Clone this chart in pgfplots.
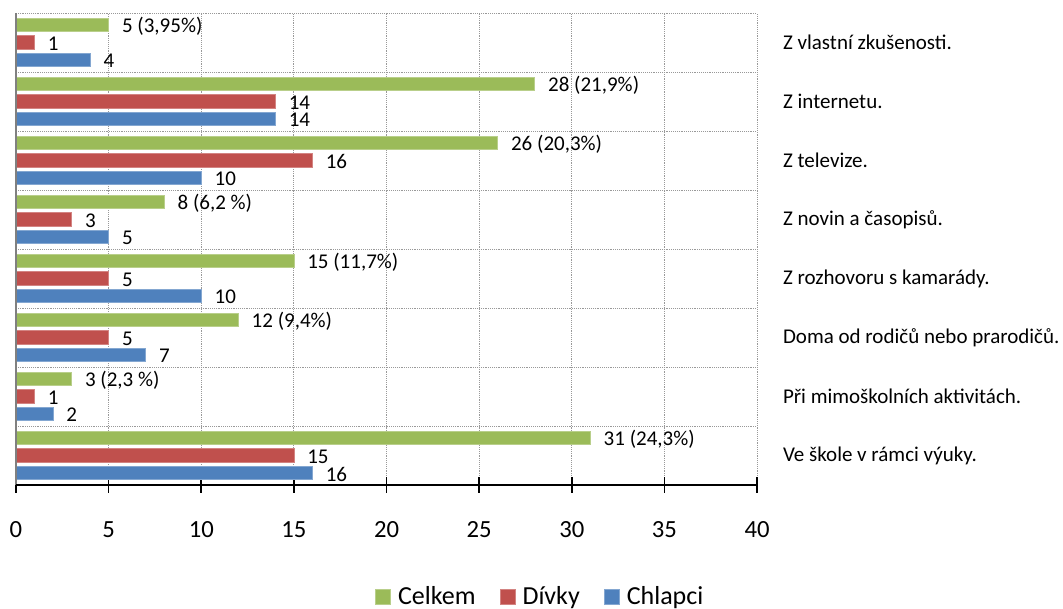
\documentclass[border=0pt]{standalone}
\usepackage{pgfplots}
\pgfplotsset{compat=1.18}
\usepackage{pgfplotstable}
\usepackage{fontspec}
\setmainfont{Carlito}
\definecolor{cgreen}{HTML}{9BBB59}
\definecolor{cred}{HTML}{C0504D}
\definecolor{cblue}{HTML}{4F81BD}
\pgfplotstableread[col sep=semicolon]{
y;celkem;divky;chlapci;lab
7;5;1;4;5 (3,95\%)
6;28;14;14;28 (21,9\%)
5;26;16;10;26 (20,3\%)
4;8;3;5;8 (6,2 \%)
3;15;5;10;15 (11,7\%)
2;12;5;7;12 (9,4\%)
1;3;1;2;3 (2,3 \%)
0;31;15;16;31 (24,3\%)
}\datatable
\begin{document}
\begin{tikzpicture}
\begin{axis}[name=ax, scale only axis, width=555.75pt, height=354pt,
  xbar, xmin=0, xmax=40, ymin=-0.5, ymax=7.5,
  xtick={0,5,...,40}, xtick pos=bottom, tick align=center,
  major tick length=12pt,
  xtick style={black, line width=1.2pt},
  xticklabel style={font=\fontsize{18.5}{22}\selectfont, anchor=north, text height=12pt, text depth=0pt, yshift=-18pt},
  /pgf/number format/assume math mode=true,
  ytick={0,...,7},
  yticklabels={Ve škole v rámci výuky., Při mimoškolních aktivitách., Doma od rodičů nebo prarodičů., Z rozhovoru s kamarády., Z novin a časopisů., Z televize., Z internetu., Z vlastní zkušenosti.},
  yticklabel pos=right,
  ytick style={draw=none},
  yticklabel style={anchor=west, xshift=10pt, font=\fontsize{15.75}{18}\selectfont},
  minor ytick={0.5,1.5,...,7.5},
  minor tick length=0pt,
  yminorgrids=true, xmajorgrids=true,
  major grid style={densely dotted, black!40, line width=0.6pt},
  minor grid style={densely dotted, black!40, line width=0.6pt},
  axis line style={draw=none},
  clip=false,
  bar width=0.23,
  point meta=explicit symbolic,
  nodes near coords,
  every node near coord/.append style={anchor=west, xshift=6.5pt, yshift=-0.8pt, font=\fontsize{15.75}{18}\selectfont, text=black},
  legend columns=3,
  legend style={draw=none, fill=none, at={(0.707,-0.237)}, anchor=center,
    nodes={font=\fontsize{19.5}{23}\selectfont, text depth=0.2em, inner sep=1pt},
    /tikz/every odd column/.append style={column sep=4.5pt},
    /tikz/every even column/.append style={column sep=17pt}},
  legend image code/.code={\fill[#1] (0pt,-5.625pt) rectangle (11.25pt,5.625pt);},
]
\addplot[xbar, bar shift=0.297, fill=cgreen, draw=cgreen!70!white, line width=0.5pt] table[x=celkem, y=y, meta=lab] {\datatable};
\addplot[xbar, bar shift=0, fill=cred, draw=cred!70!white, line width=0.5pt] table[x=divky, y=y, meta=divky] {\datatable};
\addplot[xbar, bar shift=-0.297, fill=cblue, draw=cblue!70!white, line width=0.5pt] table[x=chlapci, y=y, meta=chlapci] {\datatable};
\legend{Celkem, Dívky, Chlapci}
\draw[black!50, line width=1.5pt] (rel axis cs:0,0) -- (rel axis cs:0,1);
\draw[black, line width=2pt] (rel axis cs:0,0) -- (rel axis cs:1,0);
\end{axis}
\pgfresetboundingbox
\path ([xshift=-12pt,yshift=-93pt]ax.south west) rectangle ([xshift=229.5pt,yshift=9.75pt]ax.north east);
\end{tikzpicture}
\end{document}
